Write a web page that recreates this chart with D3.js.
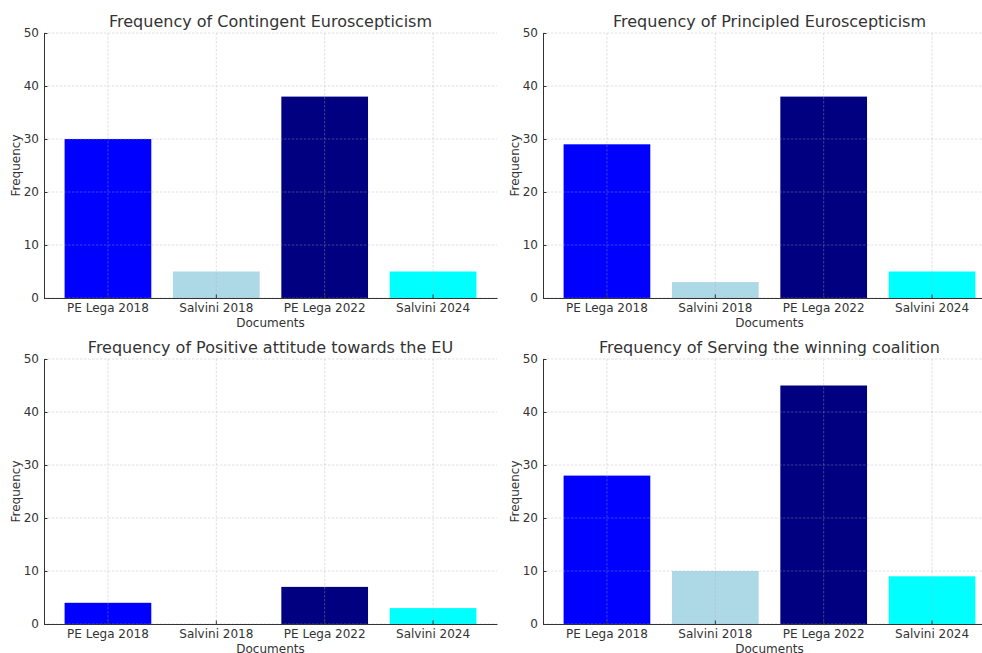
<!DOCTYPE html>
<html>
<head>
<meta charset="utf-8">
<script src="https://cdn.jsdelivr.net/npm/d3@7"></script>
<style>
  body { margin: 0; background: white; }
  svg { display: block; font-family: "DejaVu Sans", sans-serif; }
</style>
</head>
<body>
<div id="my_dataviz"></div>
<script>
// Data
const documents = ["PE Lega 2018", "Salvini 2018", "PE Lega 2022", "Salvini 2024"];
const barColors = ["#0000ff", "#add8e6", "#000080", "#00ffff"];
const contingent = [30, 5, 38, 5];
const principled = [29, 3, 38, 5];
const positive = [4, 0, 7, 3];
const serving = [28, 10, 45, 9];
const yTicks = [0, 10, 20, 30, 40, 50];

const panels = [
    { title: "Frequency of Contingent Euroscepticism", values: contingent, left: 44, top: 33 },
    { title: "Frequency of Principled Euroscepticism", values: principled, left: 543, top: 33 },
    { title: "Frequency of Positive attitude towards the EU", values: positive, left: 44, top: 359 },
    { title: "Frequency of Serving the winning coalition", values: serving, left: 543, top: 359 }
];

const width = 453;
const height = 265;
const textColor = "#333";

const svg = d3.select("#my_dataviz")
    .append("svg")
    .attr("width", 982)
    .attr("height", 653);

function drawPanel(p) {
    const g = svg.append("g")
        .attr("transform", `translate(${p.left}, ${p.top})`);

    const x = d3.scaleBand()
        .domain(documents)
        .range([0, width])
        .paddingInner(0.2)
        .paddingOuter(0.19);

    const y = d3.scaleLinear()
        .domain([0, 50])
        .range([height, 0]);

    // Bars
    g.selectAll(".bar")
        .data(p.values)
        .enter()
        .append("rect")
        .attr("x", (d, i) => x(documents[i]))
        .attr("y", d => y(d))
        .attr("width", x.bandwidth())
        .attr("height", d => y(0) - y(d))
        .attr("fill", (d, i) => barColors[i]);

    // Grid lines (drawn over the bars)
    g.append("g")
        .selectAll("line")
        .data(yTicks)
        .enter()
        .append("line")
        .attr("x1", 0)
        .attr("x2", width)
        .attr("y1", d => y(d))
        .attr("y2", d => y(d))
        .attr("stroke", "#b0b0b0")
        .attr("stroke-width", 0.8)
        .attr("stroke-dasharray", "2.5,1.5")
        .attr("opacity", 0.45);

    g.append("g")
        .selectAll("line")
        .data(documents)
        .enter()
        .append("line")
        .attr("x1", d => x(d) + x.bandwidth() / 2)
        .attr("x2", d => x(d) + x.bandwidth() / 2)
        .attr("y1", 0)
        .attr("y2", height)
        .attr("stroke", "#b0b0b0")
        .attr("stroke-width", 0.8)
        .attr("stroke-dasharray", "2.5,1.5")
        .attr("opacity", 0.45);

    // Axes, ticks pointing inward
    const xAxis = g.append("g")
        .attr("transform", `translate(0, ${height})`)
        .call(d3.axisBottom(x).tickSizeInner(-3.5).tickSizeOuter(0).tickPadding(5));

    const yAxis = g.append("g")
        .call(d3.axisLeft(y).tickValues(yTicks).tickSizeInner(-3.5).tickSizeOuter(0).tickPadding(5));

    [xAxis, yAxis].forEach(a => {
        a.selectAll("text")
            .style("font-family", "DejaVu Sans")
            .style("font-size", "12px")
            .attr("fill", textColor);
        a.selectAll("line").attr("stroke", textColor);
        a.select(".domain").attr("stroke", textColor);
    });

    // Axis labels
    g.append("text")
        .attr("x", width / 2)
        .attr("y", height + 29)
        .attr("text-anchor", "middle")
        .style("font-size", "12px")
        .attr("fill", textColor)
        .text("Documents");

    g.append("text")
        .attr("transform", `translate(-24, ${height / 2}) rotate(-90)`)
        .attr("text-anchor", "middle")
        .style("font-size", "12px")
        .attr("fill", textColor)
        .text("Frequency");

    // Title
    g.append("text")
        .attr("x", width / 2)
        .attr("y", -6)
        .attr("text-anchor", "middle")
        .style("font-size", "16px")
        .attr("fill", textColor)
        .text(p.title);
}

panels.forEach(drawPanel);
</script>
</body>
</html>
